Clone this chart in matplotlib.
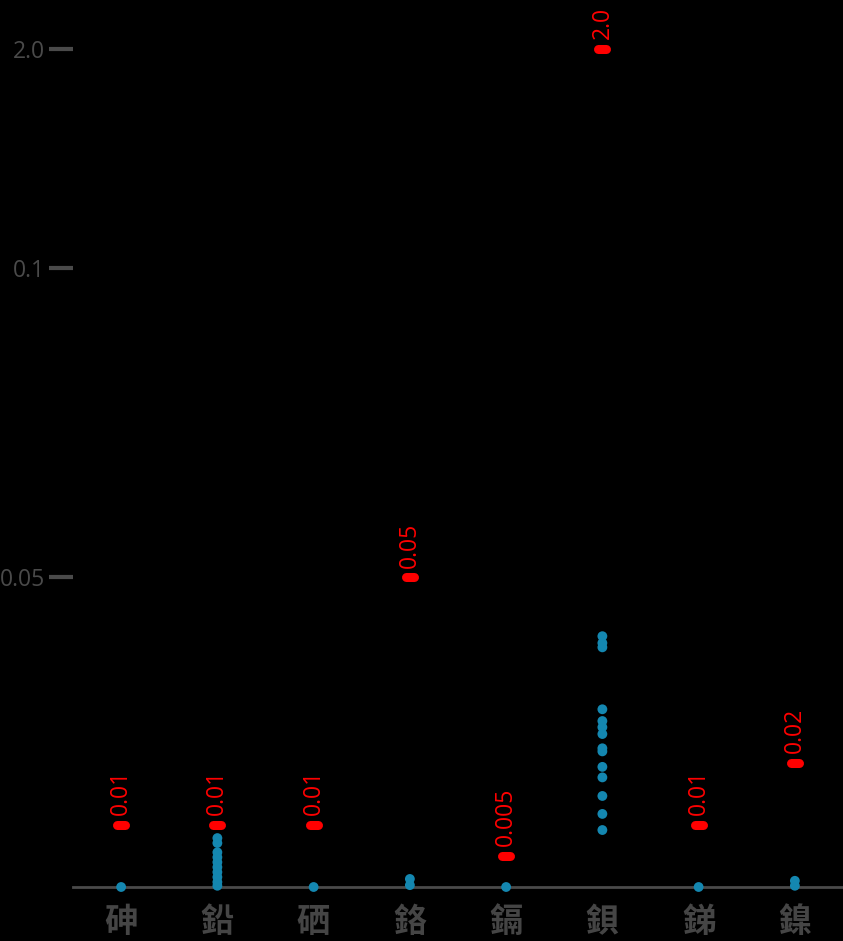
import matplotlib
matplotlib.use("Agg")
import matplotlib.pyplot as plt
import numpy as np

plt.rcParams['font.family'] = ['Noto Sans CJK TC', 'DejaVu Sans']

# categories and limits
categories = ['砷', '鉛', '硒', '鉻', '鎘', '鋇', '銻', '鎳']
limits = [0.01, 0.01, 0.01, 0.05, 0.005, 2.0, 0.01, 0.02]
limit_labels = ['0.01', '0.01', '0.01', '0.05', '0.005', '2.0', '0.01', '0.02']

# measured values per category
arsenic = [0.0]
lead = [0.0079, 0.0071, 0.0056, 0.0048, 0.0040, 0.0032, 0.0024, 0.0016, 0.0008, 0.0002]
selenium = [0.0]
chromium = [0.0013, 0.0003]
cadmium = [0.0]
barium = [0.0405, 0.0394, 0.0387, 0.0287, 0.0268, 0.0258, 0.0247, 0.0224,
          0.0219, 0.0194, 0.0177, 0.0147, 0.0118, 0.0092]
antimony = [0.0]
nickel = [0.001, 0.0002]
measured = [arsenic, lead, selenium, chromium, cadmium, barium, antimony, nickel]

yticks = [0.05, 0.1, 2.0]

# broken scale: linear up to 0.1, compressed above
K = 0.01859


def fwd(v):
    v = np.asarray(v, dtype=float)
    return np.where(v <= 0.1, v, 0.1 + (v - 0.1) * K)


def inv(u):
    u = np.asarray(u, dtype=float)
    return np.where(u <= 0.1, u, 0.1 + (u - 0.1) / K)


W, H = 843, 941
fig = plt.figure(figsize=(W / 100, H / 100), dpi=100)
fig.patch.set_facecolor('black')
ax = fig.add_axes([73 / W, (H - 887) / H, (W - 73) / W, (887 - 49) / H])
ax.set_facecolor('black')
ax.set_yscale('function', functions=(fwd, inv))
ax.set_ylim(0, 2.0)
ax.set_xlim(-0.5, len(categories) - 0.5)

for s in ['top', 'right', 'left']:
    ax.spines[s].set_visible(False)
ax.spines['bottom'].set_color('#4a4a4a')
ax.spines['bottom'].set_linewidth(2)

blue = '#1487b0'
for i, vals in enumerate(measured):
    ax.scatter(np.full(len(vals), i), vals, s=50, color=blue, zorder=3,
               edgecolors='none', clip_on=False)

half = 0.042
for i, (lim, lab) in enumerate(zip(limits, limit_labels)):
    ax.plot([i - half, i + half], [lim, lim], color='#ff0000', lw=6.5,
            solid_capstyle='round', zorder=4, clip_on=False)
    ax.annotate(lab, (i, lim), xytext=(0, 7), textcoords='offset points',
                rotation=90, ha='center', va='bottom', color='#ff0000',
                fontsize=16.5, family=['Open Sans', 'DejaVu Sans'],
                annotation_clip=False)

ax.set_xticks(range(len(categories)))
ax.set_xticklabels(categories, fontsize=24, fontweight='bold', color='#454545')
ax.tick_params(axis='x', length=0, pad=14)

ax.set_yticks(yticks)
ax.set_yticklabels(['0.05', '0.1', '2.0'], family=['Open Sans', 'DejaVu Sans'])
ax.yaxis.set_minor_locator(matplotlib.ticker.NullLocator())
ax.tick_params(axis='y', length=17, width=3, color='#4a4a4a', labelcolor='#4a4a4a',
               labelsize=16.5, pad=3)

fig.savefig('out.png', dpi=100, facecolor='black')
